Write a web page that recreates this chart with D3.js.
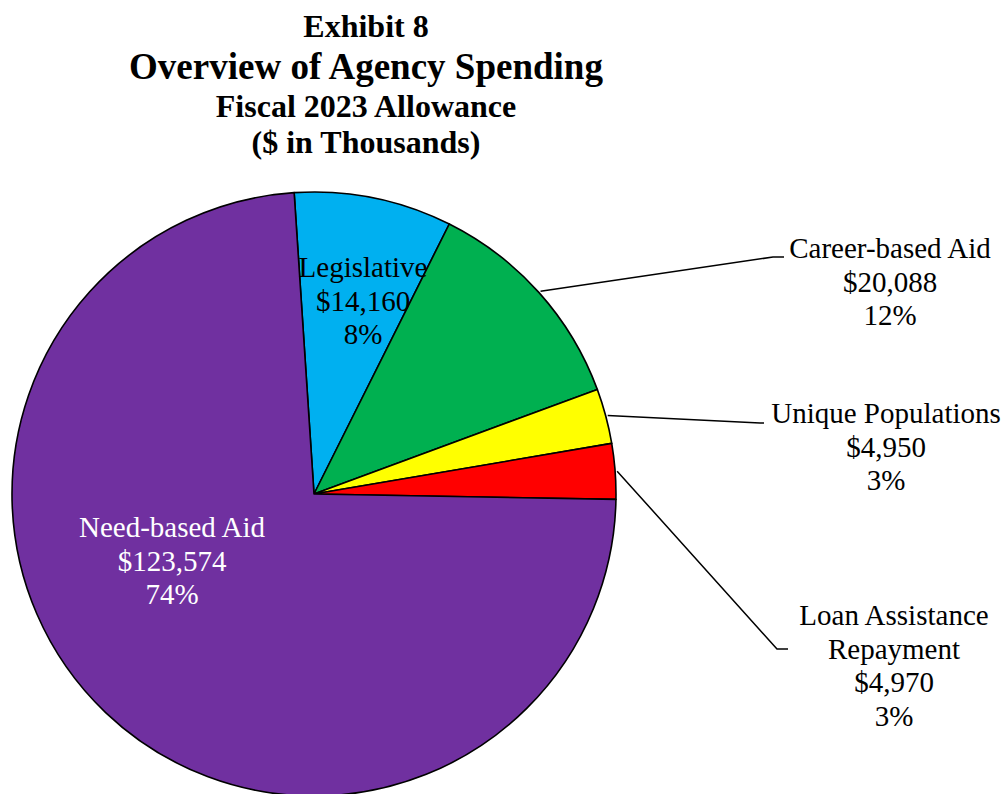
<!DOCTYPE html>
<html>
<head>
<meta charset="utf-8">
<script src="https://cdn.jsdelivr.net/npm/d3@7"></script>
<style>
  html, body { margin: 0; padding: 0; background: #ffffff; }
  svg { display: block; }
  text { font-family: "Liberation Serif", "Times New Roman", serif; }
</style>
</head>
<body>
<svg id="chart" width="1003" height="794"></svg>
<script>
// ---- Data ----
const categories = ["Legislative", "Career-based Aid", "Unique Populations", "Loan Assistance Repayment", "Need-based Aid"];
const values = [14160, 20088, 4950, 4970, 123574];
const percentLabels = ["8%", "12%", "3%", "3%", "74%"];
const nameLines = [["Legislative"], ["Career-based Aid"], ["Unique Populations"], ["Loan Assistance", "Repayment"], ["Need-based Aid"]];
const colors = ["#00B0F0", "#00B050", "#FFFF00", "#FF0000", "#7030A0"];
const titleLines = ["Exhibit 8", "Overview of Agency Spending", "Fiscal 2023 Allowance", "($ in Thousands)"];

// ---- Layout ----
const W = 1003, H = 794;
const cx = 314, cy = 494, R = 302;
const startDeg = -3.77;
const lineGap = 33.5;
const svg = d3.select("#chart");

// Title
const titleSizes = [32, 37, 32, 32];
const titleBase = [37, 79, 117, 153];
svg.append("g").selectAll("text").data(titleLines).join("text")
  .attr("x", 366).attr("y", (d, i) => titleBase[i])
  .attr("text-anchor", "middle")
  .attr("font-weight", "bold")
  .attr("font-size", (d, i) => titleSizes[i])
  .attr("fill", "#000")
  .text(d => d);

// Pie
const data = categories.map((c, i) => ({ name: c, value: values[i], idx: i }));
const start = startDeg * Math.PI / 180;
const pie = d3.pie().value(d => d.value).sort(null).startAngle(start).endAngle(start + 2 * Math.PI);
const arcs = pie(data);
const arc = d3.arc().innerRadius(0).outerRadius(R);

const g = svg.append("g").attr("transform", `translate(${cx},${cy})`);
g.selectAll("path").data(arcs).join("path")
  .attr("d", arc)
  .attr("fill", d => colors[d.data.idx])
  .attr("stroke", "#000")
  .attr("stroke-width", 1.6)
  .attr("stroke-linejoin", "round");

// Label layout: anchor center x, first baseline y, text colour, leader elbow
const labelLayout = [
  { x: 363, y: 277, fill: "#000", leader: null },
  { x: 890, y: 258, fill: "#000", leader: [[773, 257], [784, 257]] },
  { x: 886, y: 423, fill: "#000", leader: [[760, 423], [764, 423]] },
  { x: 894, y: 625, fill: "#000", leader: [[777, 649], [788, 649]] },
  { x: 172, y: 537, fill: "#fff", leader: null }
];

const fmt = d3.format(",");
const labelG = svg.append("g");
arcs.forEach((a, i) => {
  const L = labelLayout[i];
  const lines = nameLines[i].concat(["$" + fmt(values[i]), percentLabels[i]]);
  const t = labelG.append("text")
    .attr("text-anchor", "middle")
    .attr("font-size", 29)
    .attr("fill", L.fill);
  lines.forEach((ln, j) => {
    t.append("tspan").attr("x", L.x).attr("y", L.y + j * lineGap).text(ln);
  });
  if (L.leader) {
    const mid = (a.startAngle + a.endAngle) / 2;
    const r0 = R + 2;
    const p0 = [cx + r0 * Math.sin(mid), cy - r0 * Math.cos(mid)];
    const pts = [p0].concat(L.leader);
    labelG.append("path")
      .attr("d", d3.line()(pts))
      .attr("fill", "none")
      .attr("stroke", "#000")
      .attr("stroke-width", 1.5);
  }
});
</script>
</body>
</html>
